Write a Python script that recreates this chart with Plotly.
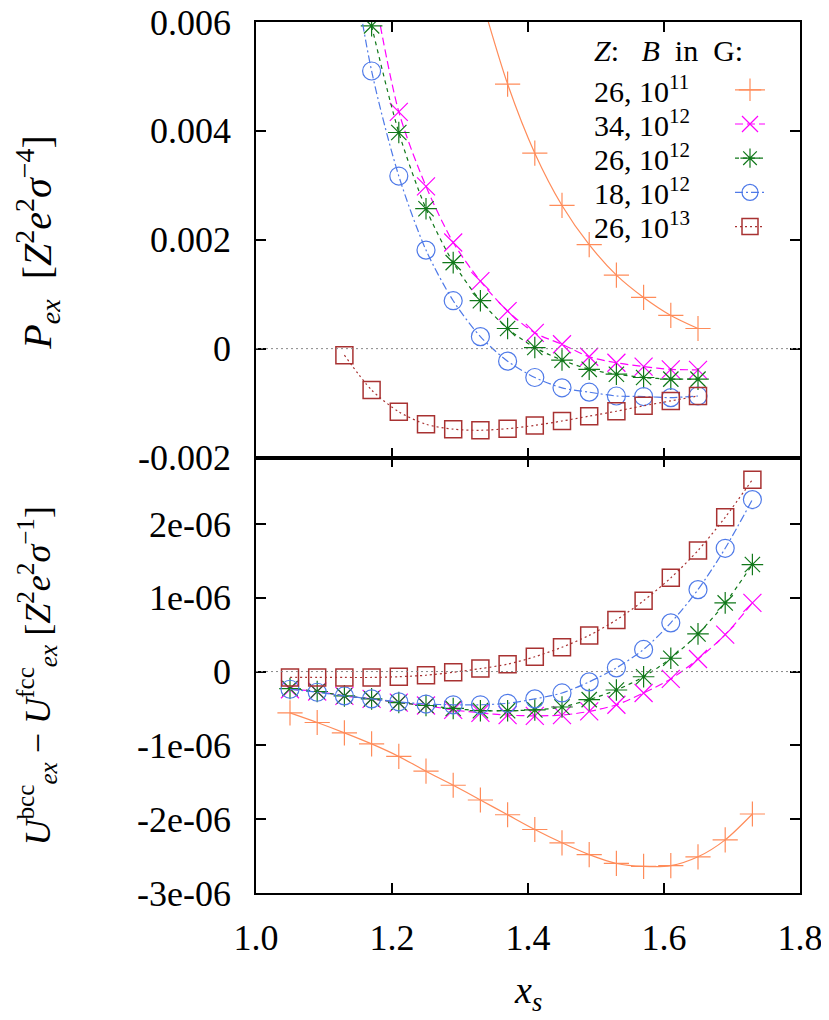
import plotly.graph_objects as go
from plotly.subplots import make_subplots

# ---------------- data ----------------
series_names = ["26, 10<sup>11</sup>", "34, 10<sup>12</sup>", "26, 10<sup>12</sup>",
                "18, 10<sup>12</sup>", "26, 10<sup>13</sup>"]

# top panel: P_ex  [Z^2 e^2 sigma^-4]
x_p_orange = [1.33, 1.37, 1.41, 1.45, 1.49, 1.53, 1.57, 1.61, 1.65]
p_orange = [0.0065, 0.00486, 0.00359, 0.00263, 0.00191, 0.00135, 0.00094, 0.00061, 0.00037]

x_p_magenta = [1.17, 1.21, 1.25, 1.29, 1.33, 1.37, 1.41, 1.45, 1.49, 1.53, 1.57, 1.61, 1.65]
p_magenta = [0.0068, 0.00435, 0.00298, 0.00195, 0.00124, 0.00069, 0.00029, 0.00008,
             -0.00015, -0.00026, -0.00033, -0.00038, -0.00039]

x_p_green = [1.17, 1.21, 1.25, 1.29, 1.33, 1.37, 1.41, 1.45, 1.49, 1.53, 1.57, 1.61, 1.65]
p_green = [0.00593, 0.00397, 0.00257, 0.00158, 0.00088, 0.00037, 0.00002, -0.00021,
           -0.00038, -0.00047, -0.00053, -0.00056, -0.00056]

x_p_blue = [1.13, 1.17, 1.21, 1.25, 1.29, 1.33, 1.37, 1.41, 1.45, 1.49, 1.53, 1.57, 1.61, 1.65]
p_blue = [0.0080, 0.00510, 0.00317, 0.00181, 0.00088, 0.00022, -0.00023, -0.00053,
          -0.00072, -0.00080, -0.00087, -0.00088, -0.00090, -0.00087]

x_p_red = [1.13, 1.17, 1.21, 1.25, 1.29, 1.33, 1.37, 1.41, 1.45, 1.49, 1.53, 1.57, 1.61, 1.65]
p_red = [-0.00012, -0.00076, -0.00116, -0.00139, -0.00148, -0.00150, -0.00147, -0.00141,
         -0.00133, -0.00124, -0.00115, -0.00105, -0.00096, -0.00087]

# bottom panel: U_bcc - U_fcc  [Z^2 e^2 sigma^-1]
x_u = [1.05, 1.09, 1.13, 1.17, 1.21, 1.25, 1.29, 1.33, 1.37, 1.41, 1.45, 1.49,
       1.53, 1.57, 1.61, 1.65, 1.69, 1.73]
u_orange = [-0.56e-6, -0.69e-6, -0.83e-6, -0.98e-6, -1.15e-6, -1.35e-6, -1.54e-6, -1.74e-6,
            -1.94e-6, -2.14e-6, -2.32e-6, -2.48e-6, -2.60e-6, -2.64e-6, -2.63e-6, -2.51e-6,
            -2.28e-6, -1.93e-6]
u_magenta = [-0.24e-6, -0.27e-6, -0.33e-6, -0.37e-6, -0.42e-6, -0.46e-6, -0.52e-6, -0.56e-6,
             -0.59e-6, -0.60e-6, -0.59e-6, -0.54e-6, -0.45e-6, -0.29e-6, -0.10e-6, 0.17e-6,
             0.50e-6, 0.93e-6]
u_green = [-0.23e-6, -0.27e-6, -0.33e-6, -0.37e-6, -0.42e-6, -0.46e-6, -0.50e-6, -0.53e-6,
           -0.53e-6, -0.52e-6, -0.48e-6, -0.38e-6, -0.25e-6, -0.07e-6, 0.18e-6, 0.51e-6,
           0.93e-6, 1.45e-6]
u_blue = [-0.24e-6, -0.28e-6, -0.33e-6, -0.37e-6, -0.41e-6, -0.44e-6, -0.45e-6, -0.45e-6,
          -0.43e-6, -0.37e-6, -0.29e-6, -0.14e-6, 0.05e-6, 0.30e-6, 0.66e-6, 1.11e-6,
          1.67e-6, 2.33e-6]
u_red = [-0.08e-6, -0.08e-6, -0.08e-6, -0.08e-6, -0.07e-6, -0.05e-6, -0.01e-6, 0.04e-6,
         0.10e-6, 0.20e-6, 0.33e-6, 0.49e-6, 0.70e-6, 0.96e-6, 1.27e-6, 1.64e-6,
         2.09e-6, 2.60e-6]

x_tickvals = [1.0, 1.2, 1.4, 1.6, 1.8]
x_ticktext = ["1.0", "1.2", "1.4", "1.6", "1.8"]
p_tickvals = [-0.002, 0.0, 0.002, 0.004, 0.006]
p_ticktext = ["-0.002", "0", "0.002", "0.004", "0.006"]
u_tickvals = [-3e-6, -2e-6, -1e-6, 0.0, 1e-6, 2e-6]
u_ticktext = ["-3e-06", "-2e-06", "-1e-06", "0", "1e-06", "2e-06"]

# ---------------- styles ----------------
colors = ["#ff8c5a", "#ff00ff", "#11781a", "#4f7ae8", "#a83232"]
symbols = ["cross-thin-open", "x-thin-open", "asterisk-open", "circle-open", "square-open"]
sizes = [18, 18, 18, 18, 17]
dashes = ["solid", "8px,4px", "4px,4px", "8px,3px,2px,3px", "2px,3px"]
mlw = [1.2, 1.2, 1.2, 1.2, 1.5]

FONT = "Liberation Serif"

fig = make_subplots(rows=2, cols=1, shared_xaxes=False, vertical_spacing=0)

top_sets = [(x_p_orange, p_orange), (x_p_magenta, p_magenta), (x_p_green, p_green),
            (x_p_blue, p_blue), (x_p_red, p_red)]
bot_sets = [u_orange, u_magenta, u_green, u_blue, u_red]

for i, (xx, yy) in enumerate(top_sets):
    fig.add_trace(go.Scatter(
        x=xx, y=yy, mode="lines+markers", name=" ", showlegend=True,
        line=dict(color=colors[i], width=1.2, dash=dashes[i], shape="spline", smoothing=0.8),
        marker=dict(symbol=symbols[i], size=sizes[i], color=colors[i],
                    line=dict(color=colors[i], width=mlw[i])),
        cliponaxis=True,
    ), row=1, col=1)

for i, yy in enumerate(bot_sets):
    fig.add_trace(go.Scatter(
        x=x_u, y=yy, mode="lines+markers", name=" ", showlegend=False,
        line=dict(color=colors[i], width=1.2, dash=dashes[i], shape="spline", smoothing=0.8),
        marker=dict(symbol=symbols[i], size=sizes[i], color=colors[i],
                    line=dict(color=colors[i], width=mlw[i])),
        cliponaxis=True,
    ), row=2, col=1)

# zero reference lines
fig.add_hline(y=0, line=dict(color="#888888", width=1, dash="2px,3px"), row=1, col=1)
fig.add_hline(y=0, line=dict(color="#888888", width=1, dash="2px,3px"), row=2, col=1)

axis_common = dict(showline=True, linecolor="black", linewidth=1.6, mirror="ticks",
                   ticks="inside", ticklen=10, tickwidth=1.5, tickcolor="black",
                   showgrid=False, zeroline=False, automargin=False,
                   ticklabeloverflow="allow",
                   tickfont=dict(family=FONT, size=36, color="black"))

fig.update_xaxes(range=[1.0, 1.8], tickvals=x_tickvals, ticktext=x_ticktext,
                 showticklabels=False, **axis_common, row=1, col=1)
fig.update_xaxes(range=[1.0, 1.8], tickvals=x_tickvals, ticktext=x_ticktext,
                 showticklabels=True, ticklabelstandoff=12, **axis_common, row=2, col=1)
fig.update_yaxes(range=[-0.002, 0.006], tickvals=p_tickvals, ticktext=p_ticktext,
                 ticklabelstandoff=16, **axis_common, row=1, col=1)
fig.update_yaxes(range=[-3e-6, 2.9e-6], tickvals=u_tickvals, ticktext=u_ticktext,
                 ticklabelstandoff=16, **axis_common, row=2, col=1)

# the page body adds an 8px margin around the figure; lay out in page pixels
OFF = 8
W, H = 821, 1012
plot_left, plot_right, plot_top, plot_bottom = 256, 800, 22.3, 893.5
L = plot_left - OFF
T = plot_top - OFF
R = W - (plot_right - OFF)
B = H - (plot_bottom - OFF)
pw, ph = plot_right - plot_left, plot_bottom - plot_top


def px(xp):
    return (xp - plot_left) / pw


def py(yp):
    return (plot_bottom - yp) / ph


annotations = [
    dict(text="<i>x</i><sub><i>s</i></sub>", x=px(528), y=py(994), xref="paper", yref="paper",
         showarrow=False, font=dict(family=FONT, size=38, color="black"),
         xanchor="center", yanchor="middle"),
    dict(text="<i>P</i><sub><i>ex</i></sub>&nbsp;&nbsp;[<i>Z</i><sup>2</sup><i>e</i><sup>2</sup><i>σ</i><sup>−4</sup>]",
         x=px(37), y=py(243), xref="paper", yref="paper", textangle=-90,
         showarrow=False, font=dict(family=FONT, size=40, color="black"),
         xanchor="center", yanchor="middle"),
    dict(text="<i>U</i><sup>bcc</sup><sub><i>ex</i></sub> − <i>U</i><sup>fcc</sup><sub><i>ex</i></sub> [<i>Z</i><sup>2</sup><i>e</i><sup>2</sup><i>σ</i><sup>−1</sup>]",
         x=px(37), y=py(676), xref="paper", yref="paper", textangle=-90,
         showarrow=False, font=dict(family=FONT, size=36, color="black"),
         xanchor="center", yanchor="middle"),
    dict(text="<i>Z</i>:&nbsp;&nbsp;&nbsp;<i>B</i>&nbsp;&nbsp;in&nbsp;&nbsp;G:", x=px(592), y=py(51),
         xref="paper", yref="paper",
         showarrow=False, font=dict(family=FONT, size=30, color="black"),
         xanchor="left", yanchor="middle"),
]
row_y = [88, 122, 156, 190, 224]
for nm, ry in zip(series_names, row_y):
    annotations.append(dict(text=nm, x=px(592), y=py(ry + 1), xref="paper", yref="paper",
                            showarrow=False, font=dict(family=FONT, size=30, color="black"),
                            xanchor="left", yanchor="middle"))

fig.update_layout(
    width=W, height=H,
    margin=dict(l=L, r=R, t=T, b=B, pad=0, autoexpand=False),
    paper_bgcolor="white", plot_bgcolor="white",
    annotations=annotations,
    legend=dict(x=px(730), y=py(68), xanchor="left", yanchor="top",
                bgcolor="rgba(0,0,0,0)", borderwidth=0,
                font=dict(family=FONT, size=24, color="black"),
                itemwidth=30, tracegroupgap=0),
    showlegend=True,
)

fig.write_html("out.html")
